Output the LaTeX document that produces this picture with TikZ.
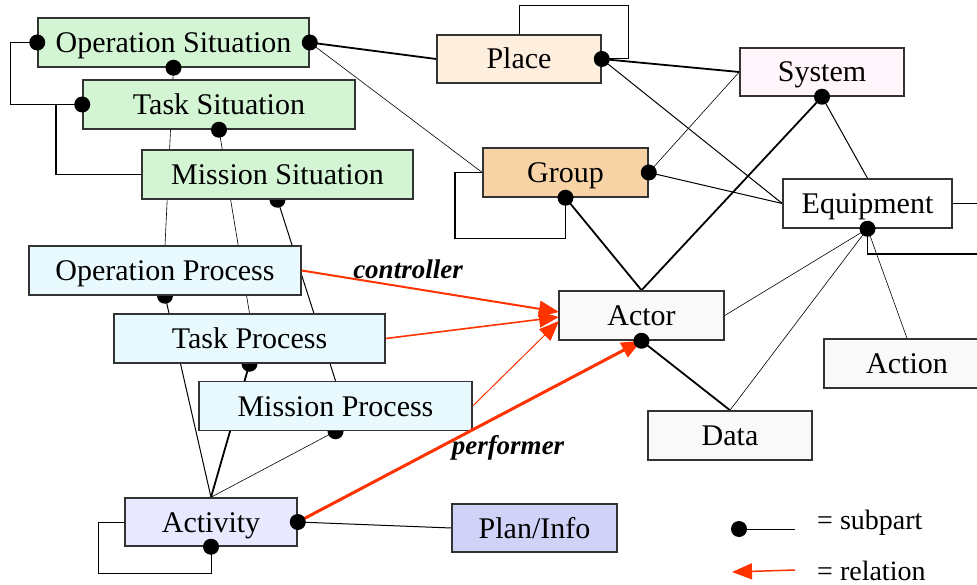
\documentclass[tikz,border=0pt]{standalone}
\usepackage{fontspec}
\setmainfont{Liberation Serif}
\usetikzlibrary{arrows.meta,calc}
\definecolor{sitgreen}{RGB}{211,245,211}
\definecolor{proccyan}{RGB}{232,250,253}
\definecolor{actlav}{RGB}{232,232,255}
\definecolor{planblue}{RGB}{208,210,248}
\definecolor{placepeach}{RGB}{254,238,222}
\definecolor{grouptan}{RGB}{248,211,166}
\definecolor{syspink}{RGB}{255,245,250}
\definecolor{greybox}{RGB}{249,249,249}
\definecolor{relred}{RGB}{255,51,0}
\definecolor{edgegrey}{RGB}{51,51,51}
\pgfdeclarelayer{bg}
\pgfsetlayers{bg,main}
\begin{document}
\begin{tikzpicture}[x=1pt,y=-1pt,
  box/.style={draw=edgegrey,line width=1.5pt,minimum height=49pt,inner sep=0pt,
    text height=23pt,text depth=3pt,
    font=\fontsize{30}{36}\selectfont,anchor=center},
  lbl/.style={font=\fontsize{27}{32}\selectfont\bfseries\itshape,inner sep=0pt},
  legtext/.style={font=\fontsize{28}{33}\selectfont,inner sep=0pt,anchor=west},
  sub/.style={line width=1pt},
  thinsub/.style={line width=0.6pt},
  thicksub/.style={line width=1.8pt},
  rel/.style={draw=relred,line width=2pt,-{Triangle[length=20pt,width=16pt]}},
  dot/.style={circle,fill=black,inner sep=0pt,minimum size=16pt}
]
\useasboundingbox (0,0) rectangle (977,585);

% ---- nodes ----
\node[box,fill=sitgreen,minimum width=271pt] (opsit) at (173.5,42.5) {Operation Situation};
\node[box,fill=sitgreen,minimum width=272pt] (tasksit) at (219,104.5) {Task Situation};
\node[box,fill=sitgreen,minimum width=271pt] (missit) at (277.5,174.5) {Mission Situation};
\node[box,fill=proccyan,minimum width=272pt] (opproc) at (165,270.5) {Operation Process};
\node[box,fill=proccyan,minimum width=271pt] (taskproc) at (249.5,338.5) {Task Process};
\node[box,fill=proccyan,minimum width=273pt] (misproc) at (335.5,406) {Mission Process};
\node[box,fill=actlav,minimum width=172pt,minimum height=48pt] (activity) at (211,522) {Activity};
\node[box,fill=planblue,minimum width=165pt,minimum height=48pt] (planinfo) at (534.5,528) {Plan/Info};
\node[box,fill=placepeach,minimum width=164pt,minimum height=48pt] (place) at (519,59) {Place};
\node[box,fill=grouptan,minimum width=165pt] (group) at (565.5,172.5) {Group};
\node[box,fill=syspink,minimum width=164pt,minimum height=48pt] (system) at (822,72) {System};
\node[box,fill=white,minimum width=169pt] (equipment) at (867.5,203.5) {Equipment};
\node[box,fill=greybox,minimum width=165pt] (actor) at (641.5,315.5) {Actor};
\node[box,fill=greybox,minimum width=164pt] (data) at (730,435.5) {Data};
\node[box,fill=greybox,minimum width=166pt] (action) at (907,363.5) {Action};

\coordinate (eqr) at (977,203.5);
\coordinate (eqb) at (977,254);
\coordinate (a1) at (559,312);
\coordinate (a2) at (559,317);
\coordinate (a3) at (559,321);

% ---- subpart connectors (behind boxes) ----
\begin{pgfonlayer}{bg}
\draw[thinsub] (opsit.south) -- (opproc.north);
\draw[thinsub] (tasksit.south) -- (taskproc.north);
\draw[sub] (missit.south) -- (misproc.north);
\draw[sub] (opproc.south) -- (activity.north);
\draw[thicksub] (taskproc.south) -- (activity.north);
\draw[thinsub] (misproc.south) -- (activity.north);
\draw[thicksub] (opsit.east) -- (place.west);
\draw[thinsub] (opsit.east) -- (group.west);
\draw[sub] (opsit.west) -- ++(-27,0) |- (tasksit.west);
\draw[thicksub] (tasksit.west) -- ++(-26,0) |- (missit.west);
\draw[sub] (activity.south) -- ++(0,27) -- ++(-113,0) |- (activity.west);
\draw[sub] (activity.east) -- (planinfo.west);
\draw[sub] (place.east) -- ++(27,0) -- ++(0,-53) -| (place.north);
\draw[thicksub] (place.east) -- (system.west);
\draw[sub] (place.east) -- (equipment.west);
\draw[thinsub] (group.east) -- (system.west);
\draw[sub] (group.east) -- (equipment.west);
\draw[thicksub] (group.west) -- ++(-27,0) -- ++(0,66) -| (group.south);
\draw[thicksub] (group.south) -- (actor.north);
\draw[thicksub] (system.south) -- (actor.north);
\draw[sub] (system.south) -- (equipment.north);
\draw[sub] (equipment.east) -- (eqr);
\draw[thicksub] (equipment.south) |- (eqb);
\draw[thinsub] (equipment.south) -- (actor.east);
\draw[thinsub] (equipment.south) -- (data.north);
\draw[thinsub] (equipment.south) -- (action.north);
\draw[thicksub] (actor.south) -- (data.north);
% dots hidden half behind their boxes
\fill (missit.south) circle[radius=8pt];
\fill (opproc.south) circle[radius=8pt];
\fill (taskproc.south) circle[radius=8pt];
\fill (misproc.south) circle[radius=8pt];
\end{pgfonlayer}

% ---- relations ----
\draw[rel] (opproc.east) -- (a1);
\draw[rel,line width=1.6pt] (taskproc.east) -- (a2);
\draw[rel,line width=1pt] (misproc.east) -- (a3);
\draw[rel,line width=3pt] (activity.east) -- (actor.south);

% ---- visible dots ----
\foreach \p in {opsit.east,opsit.west,opsit.south,tasksit.west,tasksit.south,
  activity.east,activity.south,place.east,group.east,group.south,
  system.south,equipment.south,actor.south}
  \fill (\p) circle[radius=8pt];

% ---- labels ----
\node[lbl] (lctrl) at (408,269) {controller};
\node[lbl] (lperf) at (508,448) {performer};

% ---- legend ----
\node[dot] (ldot) at (739,529) {};
\coordinate (lend) at (795,529);
\draw[thinsub] (ldot) -- (lend);
\node[legtext] (lsub) at (817,523) {= subpart};
\coordinate (rstart) at (795,570);
\coordinate (rtip) at (732,572);
\draw[rel,line width=1.5pt] (rstart) -- (rtip);
\node[legtext] (lrel) at (817,571) {= relation};
\end{tikzpicture}
\end{document}
